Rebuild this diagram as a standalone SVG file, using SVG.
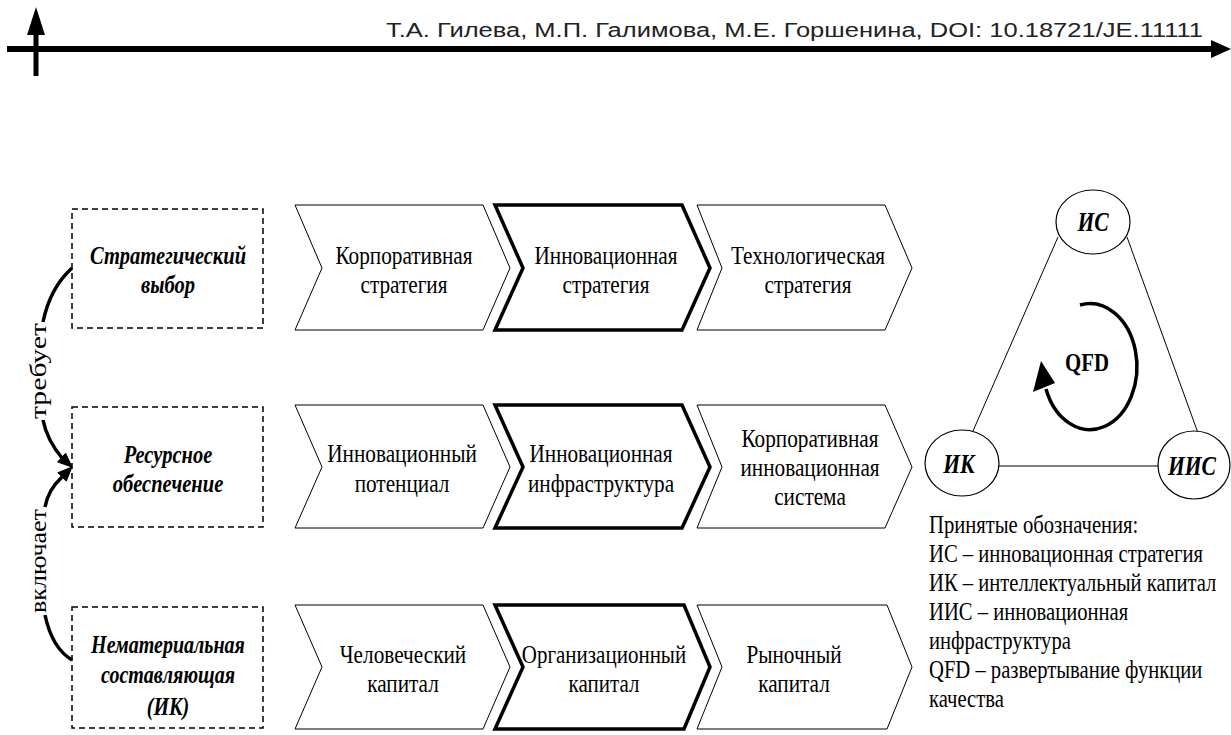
<svg xmlns="http://www.w3.org/2000/svg" width="1231" height="735" viewBox="0 0 1231 735">
<style>
.hdr{font-family:"Liberation Sans",Arial,sans-serif;font-size:20px;fill:#222}
.t{font-family:"Liberation Serif","Times New Roman",serif;font-size:25px;fill:#000;text-anchor:middle}
.lb{font-family:"Liberation Serif","Times New Roman",serif;font-size:26px;font-weight:bold;font-style:italic;fill:#000;text-anchor:middle}
.el{font-family:"Liberation Serif","Times New Roman",serif;font-size:27px;font-weight:bold;font-style:italic;fill:#000;text-anchor:middle}
.qfd{font-family:"Liberation Serif","Times New Roman",serif;font-size:26px;font-weight:bold;fill:#000;text-anchor:middle}
.lg{font-family:"Liberation Serif","Times New Roman",serif;font-size:25px;fill:#000}
.rot{font-family:"Liberation Serif","Times New Roman",serif;font-size:24px;fill:#000;text-anchor:middle}
.chev{fill:#fff;stroke:#000;stroke-width:1}
.chevb{fill:#fff;stroke:#000;stroke-width:3.5}
.box{fill:#fff;stroke:#000;stroke-width:1.5;stroke-dasharray:6 4}
.ell{fill:#fff;stroke:#000;stroke-width:1.2}
.thin{stroke:#000;stroke-width:1;fill:none}
.arc{stroke:#000;stroke-width:3.5;fill:none}
</style>

<g id="header">
  <line x1="7" y1="49" x2="1213" y2="49" stroke="#000" stroke-width="6"/>
  <polygon points="1231,49 1211,40 1211,58" fill="#000"/>
  <line x1="36" y1="76" x2="36" y2="32" stroke="#000" stroke-width="5"/>
  <polygon points="36,7 27,35 45,35" fill="#000"/>
  <text class="hdr" x="386" y="37" textLength="817" lengthAdjust="spacingAndGlyphs">Т.А. Гилева, М.П. Галимова, М.Е. Горшенина,  DOI: 10.18721/JE.11111</text>
</g>

<g id="box-strategic">
  <rect class="box" x="72" y="209" width="191" height="119"/>
  <text class="lb" transform="translate(168,264) scale(0.79,1)">Стратегический</text>
  <text class="lb" transform="translate(168,293) scale(0.79,1)">выбор</text>
</g>
<g id="box-resource">
  <rect class="box" x="72" y="407" width="191" height="120"/>
  <text class="lb" transform="translate(168,463) scale(0.79,1)">Ресурсное</text>
  <text class="lb" transform="translate(168,492) scale(0.79,1)">обеспечение</text>
</g>
<g id="box-intangible">
  <rect class="box" x="72" y="607" width="191" height="121"/>
  <text class="lb" transform="translate(168,653) scale(0.77,1)">Нематериальная</text>
  <text class="lb" transform="translate(168,683) scale(0.77,1)">составляющая</text>
  <text class="lb" transform="translate(168,715) scale(0.77,1)">(ИК)</text>
</g>

<g id="row1-corp">
  <polygon class="chev" points="295,205 483,205 510,268 483,330 295,330 322,268"/>
  <text class="t" transform="translate(404,264) scale(0.85,1)">Корпоративная</text>
  <text class="t" transform="translate(404,293) scale(0.85,1)">стратегия</text>
</g>
<g id="row1-innov">
  <polygon class="chevb" points="495,205 682,205 710,268 682,330 495,330 523,268"/>
  <text class="t" transform="translate(606,264) scale(0.85,1)">Инновационная</text>
  <text class="t" transform="translate(606,293) scale(0.85,1)">стратегия</text>
</g>
<g id="row1-tech">
  <polygon class="chev" points="697,205 885,205 912,268 885,330 697,330 722,268"/>
  <text class="t" transform="translate(808,264) scale(0.85,1)">Технологическая</text>
  <text class="t" transform="translate(808,293) scale(0.85,1)">стратегия</text>
</g>

<g id="row2-potential">
  <polygon class="chev" points="295,405 483,405 510,467 483,528 295,528 322,467"/>
  <text class="t" transform="translate(402,462) scale(0.85,1)">Инновационный</text>
  <text class="t" transform="translate(402,492) scale(0.85,1)">потенциал</text>
</g>
<g id="row2-infra">
  <polygon class="chevb" points="495,405 682,405 710,467 682,528 495,528 523,467"/>
  <text class="t" transform="translate(601,462) scale(0.85,1)">Инновационная</text>
  <text class="t" transform="translate(601,492) scale(0.85,1)">инфраструктура</text>
</g>
<g id="row2-system">
  <polygon class="chev" points="697,405 885,405 912,467 885,528 697,528 722,467"/>
  <text class="t" transform="translate(810,447) scale(0.85,1)">Корпоративная</text>
  <text class="t" transform="translate(810,476) scale(0.85,1)">инновационная</text>
  <text class="t" transform="translate(810,505) scale(0.85,1)">система</text>
</g>

<g id="row3-human">
  <polygon class="chev" points="295,605 483,605 510,667 483,729 295,729 322,667"/>
  <text class="t" transform="translate(403,663) scale(0.85,1)">Человеческий</text>
  <text class="t" transform="translate(403,692) scale(0.85,1)">капитал</text>
</g>
<g id="row3-org">
  <polygon class="chevb" points="495,605 684,605 710,667 684,729 495,729 523,667"/>
  <text class="t" transform="translate(604,663) scale(0.84,1)">Организационный</text>
  <text class="t" transform="translate(604,692) scale(0.84,1)">капитал</text>
</g>
<g id="row3-market">
  <polygon class="chev" points="697,605 887,605 912,667 887,729 697,729 722,667"/>
  <text class="t" transform="translate(794,663) scale(0.85,1)">Рыночный</text>
  <text class="t" transform="translate(794,692) scale(0.85,1)">капитал</text>
</g>

<g id="connectors">
  <path class="arc" d="M72,268 Q50,288 43,322"/>
  <path class="arc" d="M43,420 Q47,440 62,458"/>
  <polygon points="72,467 57.6,462 65.6,453.2" fill="#000" stroke="#000" stroke-width="1"/>
  <path class="arc" d="M45,507 Q48,490 62,477"/>
  <polygon points="72,467 66.3,481.1 57.9,472.7" fill="#000" stroke="#000" stroke-width="1"/>
  <path class="arc" d="M45,615 Q52,648 72,660"/>
  <text class="rot" transform="translate(46,371) rotate(-90)" textLength="96" lengthAdjust="spacingAndGlyphs">требует</text>
  <text class="rot" transform="translate(46,561) rotate(-90)" textLength="104" lengthAdjust="spacingAndGlyphs">включает</text>

  <line class="thin" x1="1058" y1="237" x2="973" y2="431"/>
  <line class="thin" x1="1127" y1="237" x2="1198" y2="433"/>
  <line class="thin" x1="999" y1="466" x2="1158" y2="466"/>
  <path class="arc" d="M1080,305 A47,63 0 1,1 1046,389"/>
  <polygon points="1041,361 1033,392 1055,383" fill="#000"/>
</g>

<g id="node-IS">
  <ellipse class="ell" cx="1093" cy="222" rx="37" ry="32"/>
  <text class="el" transform="translate(1093,231) scale(0.8,1)">ИС</text>
</g>
<g id="node-IK">
  <ellipse class="ell" cx="962" cy="463" rx="37" ry="33"/>
  <text class="el" transform="translate(959,473) scale(0.8,1)">ИК</text>
</g>
<g id="node-IIS">
  <ellipse class="ell" cx="1194" cy="465" rx="36" ry="34"/>
  <text class="el" transform="translate(1192,475) scale(0.8,1)">ИИС</text>
</g>
<g id="qfd">
  <text class="qfd" transform="translate(1087,371) scale(0.8,1)">QFD</text>
</g>

<g id="legend">
  <text class="lg" transform="translate(929,533) scale(0.825,1)">Принятые обозначения:</text>
  <text class="lg" transform="translate(929,562) scale(0.825,1)">ИС – инновационная стратегия</text>
  <text class="lg" transform="translate(929,591) scale(0.825,1)">ИК – интеллектуальный капитал</text>
  <text class="lg" transform="translate(929,620) scale(0.825,1)">ИИС – инновационная</text>
  <text class="lg" transform="translate(929,649) scale(0.825,1)">инфраструктура</text>
  <text class="lg" transform="translate(929,678) scale(0.825,1)">QFD – развертывание функции</text>
  <text class="lg" transform="translate(929,707) scale(0.825,1)">качества</text>
</g>
</svg>
